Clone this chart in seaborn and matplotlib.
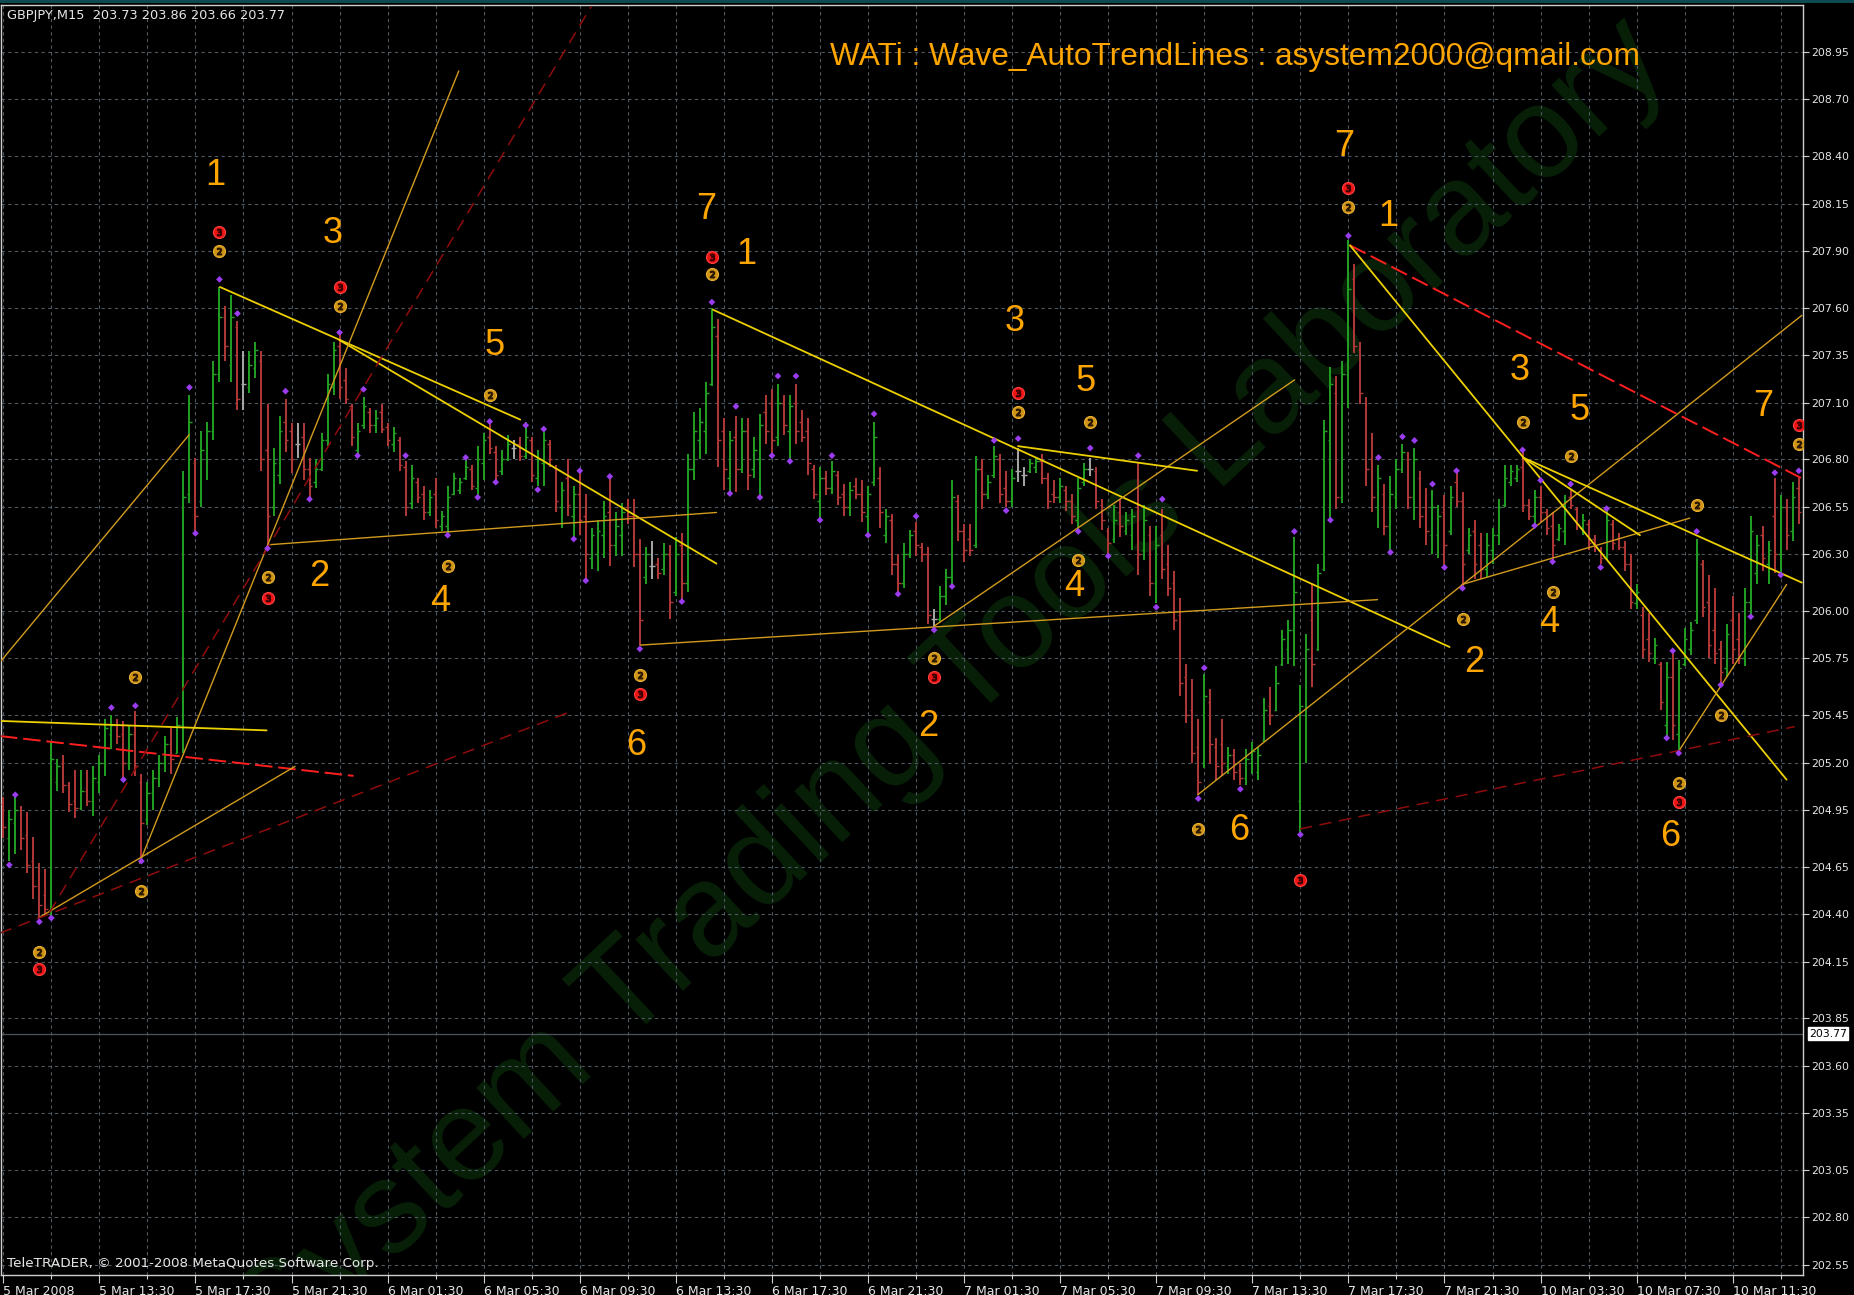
import matplotlib
matplotlib.use("Agg")
import matplotlib.pyplot as plt
import matplotlib.transforms as mtransforms
from matplotlib.patches import Rectangle
import numpy as np
import pandas as pd
import seaborn as sns

# ------------------------------------------------------------------ data
header_text = "GBPJPY,M15  203.73 203.86 203.66 203.77"
title_text = "WATi : Wave_AutoTrendLines : asystem2000@qmail.com"
watermark_text = "System Trading Tools Laboratory"
copyright_text = "TeleTRADER, \u00a9 2001-2008 MetaQuotes Software Corp."
current_price = 203.77

bar_high = [
    205.02, 204.95, 205.03, 204.97, 204.94, 204.81, 204.67, 204.64, 205.31, 205.22,
    205.24, 205.10, 205.16, 205.16, 205.16, 205.18, 205.24, 205.43, 205.45, 205.43,
    205.42, 205.40, 205.47, 205.14, 205.10, 205.16, 205.24, 205.34, 205.38, 205.44,
    206.74, 207.14, 206.81, 206.95, 207.00, 207.32, 207.71, 207.61, 207.67, 207.53,
    207.37, 207.37, 207.42, 207.37, 207.09, 206.86, 207.03, 207.12, 206.99, 206.99,
    206.99, 206.81, 206.80, 206.94, 207.25, 207.42, 207.47, 207.28, 207.09, 206.99,
    207.13, 207.07, 207.06, 207.09, 206.99, 206.97, 206.92, 206.79, 206.77, 206.70,
    206.66, 206.64, 206.70, 206.53, 206.66, 206.73, 206.70, 206.81, 206.77, 206.87,
    206.94, 207.00, 206.87, 206.85, 206.93, 206.90, 206.92, 207.00, 206.92, 206.85,
    206.96, 206.90, 206.77, 206.68, 206.80, 206.66, 206.74, 206.62, 206.44, 206.48,
    206.58, 206.70, 206.52, 206.57, 206.59, 206.59, 206.38, 206.34, 206.37, 206.28,
    206.36, 206.35, 206.39, 206.41, 206.83, 207.05, 207.07, 207.21, 207.60, 207.54,
    207.02, 206.95, 207.03, 207.02, 207.02, 206.92, 207.04, 207.14, 207.17, 207.20,
    207.14, 207.14, 207.20, 207.06, 207.02, 206.77, 206.76, 206.74, 206.79, 206.74,
    206.67, 206.68, 206.70, 206.69, 206.66, 207.00, 206.76, 206.54, 206.51, 206.30,
    206.36, 206.43, 206.47, 206.36, 206.34, 206.01, 206.13, 206.22, 206.69, 206.61,
    206.46, 206.46, 206.82, 206.80, 206.72, 206.87, 206.83, 206.74, 206.75, 206.86,
    206.76, 206.80, 206.81, 206.83, 206.73, 206.69, 206.70, 206.66, 206.62, 206.70,
    206.78, 206.81, 206.76, 206.59, 206.44, 206.56, 206.59, 206.52, 206.54, 206.78,
    206.56, 206.45, 206.45, 206.54, 206.35, 206.21, 206.07, 205.72, 205.64, 205.43,
    205.67, 205.59, 205.33, 205.43, 205.28, 205.27, 205.20, 205.27, 205.31, 205.28,
    205.54, 205.60, 205.71, 205.90, 205.95, 206.39, 205.61, 205.88, 206.14, 206.25,
    207.01, 207.29, 207.24, 207.32, 207.96, 207.83, 207.42, 207.13, 206.94, 206.77,
    206.67, 206.71, 206.80, 206.88, 206.84, 206.86, 206.74, 206.65, 206.64, 206.56,
    206.61, 206.66, 206.74, 206.63, 206.44, 206.48, 206.41, 206.41, 206.44, 206.59,
    206.77, 206.77, 206.77, 206.84, 206.59, 206.64, 206.66, 206.54, 206.52, 206.46,
    206.61, 206.64, 206.55, 206.51, 206.48, 206.40, 206.34, 206.53, 206.48, 206.41,
    206.37, 206.30, 206.14, 206.02, 205.99, 205.86, 205.73, 205.73, 205.78, 205.74,
    205.91, 205.94, 206.38, 206.27, 206.19, 206.12, 205.84, 205.93, 206.08, 205.99,
    206.12, 206.50, 206.40, 206.45, 206.37, 206.70, 206.61, 206.59, 206.68, 206.70,
]
bar_low = [
    204.80, 204.68, 204.72, 204.74, 204.62, 204.48, 204.38, 204.40, 204.38, 205.05,
    205.04, 204.94, 204.91, 204.95, 204.97, 204.92, 205.04, 205.13, 205.27, 205.30,
    205.11, 205.16, 205.13, 204.68, 204.87, 204.95, 205.07, 205.15, 205.14, 205.25,
    205.25, 206.57, 206.41, 206.55, 206.69, 206.90, 207.21, 207.32, 207.21, 207.06,
    207.06, 207.15, 207.23, 206.74, 206.33, 206.50, 206.67, 206.84, 206.73, 206.81,
    206.69, 206.60, 206.65, 206.74, 206.87, 207.14, 207.12, 207.09, 206.87, 206.82,
    206.96, 206.94, 206.94, 206.94, 206.87, 206.84, 206.74, 206.50, 206.54, 206.57,
    206.48, 206.50, 206.44, 206.42, 206.40, 206.61, 206.62, 206.69, 206.64, 206.60,
    206.69, 206.83, 206.67, 206.72, 206.79, 206.80, 206.79, 206.80, 206.68, 206.66,
    206.66, 206.76, 206.52, 206.44, 206.50, 206.38, 206.40, 206.17, 206.22, 206.21,
    206.28, 206.24, 206.29, 206.29, 206.46, 206.23, 205.82, 206.14, 206.17, 206.17,
    206.19, 205.96, 206.08, 206.05, 206.10, 206.69, 206.80, 206.83, 207.19, 206.76,
    206.64, 206.63, 206.63, 206.73, 206.64, 206.70, 206.61, 206.88, 206.83, 206.87,
    206.93, 206.80, 206.88, 206.89, 206.72, 206.59, 206.49, 206.61, 206.62, 206.56,
    206.50, 206.50, 206.59, 206.47, 206.41, 206.66, 206.44, 206.36, 206.19, 206.10,
    206.12, 206.28, 206.29, 206.26, 205.93, 205.90, 205.94, 206.03, 206.14, 206.37,
    206.26, 206.29, 206.33, 206.54, 206.59, 206.70, 206.57, 206.55, 206.55, 206.68,
    206.66, 206.73, 206.73, 206.67, 206.54, 206.57, 206.57, 206.53, 206.46, 206.43,
    206.66, 206.71, 206.54, 206.43, 206.29, 206.36, 206.39, 206.40, 206.32, 206.19,
    206.27, 206.08, 206.04, 206.17, 206.08, 205.90, 205.55, 205.41, 205.20, 205.03,
    205.17, 205.19, 205.11, 205.13, 205.14, 205.11, 205.08, 205.08, 205.14, 205.11,
    205.31, 205.40, 205.47, 205.71, 205.72, 205.71, 204.83, 205.20, 205.60, 205.79,
    206.21, 206.48, 206.54, 206.57, 207.07, 207.36, 207.09, 206.66, 206.52, 206.44,
    206.40, 206.31, 206.54, 206.73, 206.54, 206.48, 206.44, 206.35, 206.30, 206.28,
    206.23, 206.40, 206.55, 206.12, 206.30, 206.17, 206.17, 206.18, 206.25, 206.35,
    206.55, 206.66, 206.68, 206.52, 206.48, 206.45, 206.47, 206.40, 206.27, 206.37,
    206.35, 206.54, 206.43, 206.40, 206.32, 206.31, 206.25, 206.27, 206.32, 206.32,
    206.21, 206.01, 206.01, 205.75, 205.73, 205.72, 205.48, 205.33, 205.32, 205.25,
    205.71, 205.77, 205.93, 205.97, 205.75, 205.72, 205.61, 205.65, 205.72, 205.72,
    205.71, 205.97, 206.14, 206.21, 206.14, 206.20, 206.19, 206.32, 206.37, 206.46,
]
bar_open = [
    204.98, 204.80, 204.88, 204.95, 204.82, 204.68, 204.55, 204.50, 204.42, 205.10,
    205.20, 205.08, 205.00, 204.96, 205.05, 205.00, 205.10, 205.20, 205.35, 205.40,
    205.35, 205.20, 205.35, 205.10, 204.90, 205.04, 205.12, 205.20, 205.30, 205.25,
    205.40, 206.62, 206.78, 206.58, 206.80, 206.95, 207.25, 207.55, 207.30, 207.50,
    207.20, 207.18, 207.28, 207.32, 206.85, 206.55, 206.72, 207.00, 206.95, 206.88,
    206.92, 206.75, 206.68, 206.75, 206.90, 207.18, 207.40, 207.22, 207.08, 206.85,
    206.98, 207.05, 206.98, 207.05, 206.97, 206.88, 206.90, 206.76, 206.57, 206.68,
    206.62, 206.52, 206.62, 206.45, 206.45, 206.62, 206.64, 206.70, 206.75, 206.65,
    206.78, 206.92, 206.84, 206.74, 206.80, 206.86, 206.88, 206.82, 206.90, 206.70,
    206.78, 206.88, 206.76, 206.55, 206.70, 206.50, 206.62, 206.50, 206.28, 206.30,
    206.40, 206.52, 206.35, 206.40, 206.55, 206.50, 206.30, 206.18, 206.24, 206.25,
    206.22, 206.30, 206.10, 206.35, 206.15, 206.75, 206.90, 206.95, 207.20, 207.45,
    206.95, 206.70, 206.92, 206.75, 206.95, 206.75, 206.80, 207.05, 207.10, 206.92,
    207.10, 206.95, 207.10, 207.00, 206.95, 206.75, 206.58, 206.70, 206.65, 206.72,
    206.62, 206.55, 206.66, 206.62, 206.50, 206.68, 206.70, 206.40, 206.48, 206.25,
    206.15, 206.30, 206.42, 206.34, 206.30, 205.96, 205.96, 206.08, 206.18, 206.58,
    206.42, 206.38, 206.35, 206.75, 206.62, 206.72, 206.80, 206.65, 206.58, 206.74,
    206.72, 206.74, 206.76, 206.79, 206.70, 206.62, 206.60, 206.64, 206.58, 206.48,
    206.68, 206.75, 206.74, 206.56, 206.42, 206.38, 206.52, 206.42, 206.40, 206.55,
    206.32, 206.40, 206.15, 206.40, 206.25, 206.15, 205.98, 205.65, 205.48, 205.28,
    205.20, 205.52, 205.28, 205.30, 205.18, 205.24, 205.16, 205.12, 205.20, 205.15,
    205.32, 205.50, 205.48, 205.72, 205.80, 205.90, 205.00, 205.45, 205.95, 205.80,
    206.22, 206.90, 207.15, 206.60, 207.25, 207.75, 207.38, 207.10, 206.80, 206.55,
    206.62, 206.45, 206.60, 206.75, 206.80, 206.60, 206.70, 206.55, 206.40, 206.40,
    206.52, 206.42, 206.68, 206.58, 206.32, 206.42, 206.35, 206.22, 206.32, 206.40,
    206.56, 206.68, 206.70, 206.76, 206.56, 206.50, 206.60, 206.52, 206.45, 206.38,
    206.42, 206.60, 206.54, 206.44, 206.46, 206.38, 206.32, 206.28, 206.46, 206.38,
    206.34, 206.25, 206.04, 205.98, 205.85, 205.75, 205.72, 205.40, 205.65, 205.35,
    205.72, 205.80, 205.95, 206.25, 206.05, 205.90, 205.80, 205.70, 205.95, 205.85,
    205.75, 206.05, 206.20, 206.40, 206.25, 206.50, 206.30, 206.55, 206.42, 206.65,
]
bar_close = [
    204.86, 204.90, 204.95, 204.80, 204.66, 204.55, 204.45, 204.43, 205.22, 205.18,
    205.08, 204.98, 204.96, 205.05, 205.00, 205.12, 205.20, 205.38, 205.40, 205.34,
    205.20, 205.35, 205.18, 204.88, 205.04, 205.12, 205.20, 205.30, 205.22, 205.40,
    206.60, 207.00, 206.50, 206.85, 206.95, 207.25, 207.55, 207.40, 207.55, 207.12,
    207.20, 207.30, 207.38, 206.80, 206.50, 206.78, 206.95, 206.90, 206.80, 206.88,
    206.75, 206.66, 206.75, 206.90, 207.20, 207.38, 207.18, 207.12, 206.92, 206.95,
    207.08, 206.98, 207.02, 206.96, 206.90, 206.94, 206.77, 206.55, 206.70, 206.60,
    206.52, 206.60, 206.48, 206.50, 206.60, 206.70, 206.68, 206.76, 206.66, 206.80,
    206.90, 206.86, 206.72, 206.80, 206.88, 206.86, 206.82, 206.92, 206.72, 206.80,
    206.90, 206.80, 206.58, 206.64, 206.56, 206.62, 206.48, 206.30, 206.40, 206.42,
    206.50, 206.35, 206.45, 206.52, 206.50, 206.30, 205.95, 206.30, 206.24, 206.20,
    206.30, 206.05, 206.30, 206.15, 206.75, 206.95, 207.00, 207.15, 207.50, 206.90,
    206.75, 206.90, 206.75, 206.95, 206.72, 206.85, 206.98, 206.95, 206.90, 207.10,
    206.98, 207.08, 206.95, 206.92, 206.78, 206.62, 206.70, 206.65, 206.74, 206.60,
    206.55, 206.64, 206.62, 206.52, 206.62, 206.92, 206.52, 206.50, 206.25, 206.15,
    206.30, 206.40, 206.35, 206.30, 205.98, 205.96, 206.08, 206.18, 206.60, 206.42,
    206.32, 206.32, 206.75, 206.62, 206.68, 206.82, 206.62, 206.58, 206.70, 206.74,
    206.72, 206.78, 206.79, 206.70, 206.58, 206.60, 206.66, 206.58, 206.50, 206.65,
    206.75, 206.75, 206.58, 206.48, 206.36, 206.48, 206.45, 206.48, 206.50, 206.30,
    206.48, 206.15, 206.35, 206.22, 206.12, 205.95, 205.62, 205.45, 205.25, 205.10,
    205.55, 205.30, 205.18, 205.20, 205.24, 205.15, 205.12, 205.22, 205.26, 205.24,
    205.48, 205.45, 205.62, 205.85, 205.90, 206.10, 205.50, 205.80, 205.72, 206.20,
    206.95, 207.20, 206.60, 207.25, 207.70, 207.40, 207.15, 206.75, 206.60, 206.70,
    206.45, 206.62, 206.75, 206.84, 206.60, 206.80, 206.50, 206.42, 206.55, 206.50,
    206.35, 206.60, 206.58, 206.25, 206.40, 206.25, 206.22, 206.35, 206.40, 206.55,
    206.70, 206.74, 206.75, 206.56, 206.50, 206.60, 206.52, 206.44, 206.35, 206.44,
    206.58, 206.56, 206.46, 206.48, 206.36, 206.34, 206.28, 206.48, 206.36, 206.34,
    206.25, 206.05, 206.10, 205.80, 205.78, 205.82, 205.52, 205.65, 205.40, 205.70,
    205.85, 205.90, 206.30, 206.02, 205.82, 205.78, 205.68, 205.88, 205.80, 205.75,
    206.05, 206.42, 206.35, 206.28, 206.32, 206.30, 206.55, 206.40, 206.60, 206.52,
]

x_tick_labels = [
    "5 Mar 2008", "5 Mar 13:30", "5 Mar 17:30", "5 Mar 21:30", "6 Mar 01:30",
    "6 Mar 05:30", "6 Mar 09:30", "6 Mar 13:30", "6 Mar 17:30", "6 Mar 21:30",
    "7 Mar 01:30", "7 Mar 05:30", "7 Mar 09:30", "7 Mar 13:30", "7 Mar 17:30",
    "7 Mar 21:30", "10 Mar 03:30", "10 Mar 07:30", "10 Mar 11:30",
]
y_tick_values = [
    208.95, 208.70, 208.40, 208.15, 207.90, 207.60, 207.35, 207.10, 206.80,
    206.55, 206.30, 206.00, 205.75, 205.45, 205.20, 204.95, 204.65, 204.40,
    204.15, 203.85, 203.60, 203.35, 203.05, 202.80, 202.55,
]

# fractal (swing) dots: bar index and price
fractal_bars = [1, 2, 6, 8, 18, 20, 22, 23, 31, 32, 36, 39, 44, 47, 51, 56, 59, 60,
                67, 74, 77, 79, 81, 82, 87, 89, 90, 95, 96, 97, 101, 106, 113, 118,
                121, 122, 126, 128, 129, 131, 132, 136, 138, 144, 145, 149, 152, 155,
                158, 165, 167, 169, 179, 181, 184, 189, 192, 193, 199, 200, 206, 215,
                216, 221, 224, 229, 231, 233, 235, 238, 240, 242, 243, 253, 255, 256,
                258, 261, 266, 267, 277, 278, 279, 282, 286, 291, 295, 296, 299]
fractal_prices = [204.66, 205.03, 204.36, 204.38, 205.49, 205.11, 205.50, 204.68,
                  207.18, 206.41, 207.75, 207.57, 206.33, 207.16, 206.59, 207.47,
                  206.82, 207.17, 206.82, 206.40, 206.81, 206.60, 207.00, 206.68,
                  206.98, 206.64, 206.96, 206.38, 206.74, 206.16, 206.71, 205.80,
                  206.05, 207.63, 206.62, 207.08, 206.60, 206.82, 207.24, 206.79,
                  207.24, 206.48, 206.82, 206.40, 207.04, 206.09, 206.50, 205.90,
                  206.13, 206.90, 206.53, 206.91, 206.42, 206.86, 206.29, 206.82,
                  206.02, 206.59, 205.01, 205.70, 205.06, 206.42, 204.82, 206.48,
                  207.98, 206.81, 206.31, 206.92, 206.90, 206.67, 206.23, 206.74,
                  206.12, 206.85, 206.45, 206.69, 206.26, 206.67, 206.23, 206.54,
                  205.33, 205.79, 205.25, 206.42, 205.61, 205.97, 206.73, 206.19,
                  206.74]

# numbered circle signals
orange_signal_bars = [36, 56, 81, 44, 74, 22, 23, 6, 106, 118, 169, 181, 155, 179,
                      199, 224, 253, 261, 258, 243, 279, 282, 286, 299]
orange_signal_prices = [207.90, 207.61, 207.14, 206.18, 206.24, 205.65, 204.52,
                        204.20, 205.66, 207.78, 207.05, 207.00, 205.75, 206.27,
                        204.85, 208.13, 207.00, 206.82, 206.10, 205.96, 205.09,
                        206.56, 205.45, 206.88]
red_signal_bars = [36, 56, 44, 6, 106, 118, 169, 155, 216, 224, 279, 299]
red_signal_prices = [208.00, 207.71, 206.07, 204.11, 205.56, 207.87, 207.15,
                     205.65, 204.58, 208.23, 204.99, 206.98]

# wave count labels
wave_text = ["1", "3", "5", "2", "4", "6", "7", "1", "3", "5", "4", "2", "6",
             "7", "1", "3", "5", "4", "2", "6", "7"]
wave_bar = [35.3, 54.8, 81.8, 52.6, 72.7, 105.4, 117.0, 123.7, 168.4, 180.2,
            178.4, 154.0, 205.8, 223.3, 230.6, 252.5, 262.5, 257.4, 245.0, 277.5,
            293.0]
wave_price = [208.30, 207.99, 207.40, 206.18, 206.05, 205.29, 208.12, 207.88,
              207.53, 207.21, 206.13, 205.39, 204.84, 208.45, 208.08, 207.27,
              207.06, 205.94, 205.73, 204.81, 207.08]

# auto trend lines: start bar, start price, end bar, end price, kind
line_bar0 = [36.07, 55.96, 44.34, 22.68, -0.55, -0.55, -0.55, 5.85, -0.55, 7.72,
             118.18, 106.03, 155.0, 168.98, 198.9, 224.25, 224.25, 215.94, 242.92,
             253.06, 253.06, 279.2]
line_price0 = [207.71, 207.43, 206.35, 204.67, 205.73, 205.42, 205.34, 204.38,
               204.30, 204.41, 207.59, 205.82, 205.92, 206.87, 205.03, 207.93,
               207.93, 204.85, 206.14, 206.81, 206.81, 205.27]
line_bar1 = [86.09, 118.77, 118.77, 75.85, 30.95, 43.85, 58.32, 48.58, 94.55, 97.9,
             240.85, 228.84, 215.05, 198.8, 299.5, 299.5, 296.97, 298.34, 280.83,
             299.5, 272.55, 296.97]
line_price1 = [207.01, 206.25, 206.52, 208.85, 206.93, 205.37, 205.13, 205.18,
               205.47, 209.19, 205.81, 206.06, 207.22, 206.74, 207.56, 206.70,
               205.11, 205.39, 206.49, 206.15, 206.40, 206.14]
line_kind = ["yellow", "yellow", "gold", "gold", "gold", "yellow", "red", "gold",
             "darkred", "darkred", "yellow", "gold", "gold", "yellow", "gold", "red",
             "yellow", "darkred", "gold", "yellow", "yellow", "gold"]

# ------------------------------------------------------------------ style
sns.set_theme(style="dark", rc={"axes.facecolor": "black", "figure.facecolor": "black"})
plt.rcParams["font.family"] = ["DejaVu Sans"]

W, H = 1854, 1295
fig = plt.figure(figsize=(W / 100, H / 100), dpi=100, facecolor="black")
ax = fig.add_axes([1 / W, 20 / H, 1802 / W, 1270 / H])
ax.set_facecolor("black")

n = len(bar_high)
df = pd.DataFrame({"bar": np.arange(n), "open": bar_open, "high": bar_high,
                   "low": bar_low, "close": bar_close})
bar_colors = np.where(df["close"] > df["open"], "#22a022",
                      np.where(df["close"] < df["open"], "#b23838", "#a8a8a8"))

# watermark (its first letter is clipped by the chart's lower edge, as in the source)
ax.text(0.528, 0.459, watermark_text, transform=ax.transAxes, rotation=43,
        rotation_mode="anchor", fontsize=94, color="#082008",
        family=["Liberation Sans", "DejaVu Sans"], ha="center", va="center",
        zorder=0.2, clip_on=True)

# grid
grid_kw = dict(color="#4f5861", lw=0.8, ls=(0, (3, 3)))
ax.set_axisbelow(True)
ax.grid(True, axis="x", which="minor", **grid_kw)
ax.grid(True, axis="x", which="major", **grid_kw)
ax.grid(True, axis="y", which="major", **grid_kw)

# current price line
ax.axhline(current_price, color="#4c545c", lw=0.9, zorder=1)

# OHLC bars
ax.vlines(df["bar"], df["low"], df["high"], colors=bar_colors, lw=1.4, zorder=3)
ax.hlines(df["open"], df["bar"] - 0.45, df["bar"], colors=bar_colors, lw=1.0, zorder=3)
ax.hlines(df["close"], df["bar"], df["bar"] + 0.45, colors=bar_colors, lw=1.0, zorder=3)

# trend lines
line_styles = {
    "yellow": dict(color="#ecd000", lw=1.3, ls="-"),
    "gold": dict(color="#d29b1e", lw=1.0, ls="-"),
    "red": dict(color="#ff1f1f", lw=1.4, ls=(0, (9, 3))),
    "darkred": dict(color="#900c0c", lw=1.1, ls=(0, (8, 5))),
}
for x0, y0, x1, y1, k in zip(line_bar0, line_price0, line_bar1, line_price1, line_kind):
    ax.plot([x0, x1], [y0, y1], zorder=4, **line_styles[k])

# fractal dots
sns.scatterplot(x=fractal_bars, y=fractal_prices, marker="D", s=12, color="#9a3cf0",
                edgecolor="none", ax=ax, zorder=5, legend=False)

# circle signals
sns.scatterplot(x=orange_signal_bars, y=orange_signal_prices, s=75, color="#cf9416",
                edgecolor="#e8b030", linewidth=0.8, ax=ax, zorder=6, legend=False)
ax.scatter(orange_signal_bars, orange_signal_prices, marker="$2$", s=22,
           color="#2a1800", zorder=7)
sns.scatterplot(x=red_signal_bars, y=red_signal_prices, s=75, color="#ee1414",
                edgecolor="#ff4040", linewidth=0.8, ax=ax, zorder=6, legend=False)
ax.scatter(red_signal_bars, red_signal_prices, marker="$3$", s=22,
           color="#3a0000", zorder=7)

# wave labels
for t, xb, yp in zip(wave_text, wave_bar, wave_price):
    ax.text(xb, yp, t, color="#ffa500", fontsize=26, ha="center", va="center",
            family=["Liberation Sans", "DejaVu Sans"], zorder=8)

# axes limits & ticks
ax.set_xlim(-0.38, 299.7)
ax.set_ylim(202.496, 209.198)
ax.set_xticks(np.arange(0, n, 16))
ax.set_xticklabels(x_tick_labels)
for lbl in ax.get_xticklabels():
    lbl.set_ha("left")
ax.set_xticks(np.arange(0, n, 8), minor=True)
ax.tick_params(axis="x", which="major", bottom=True, length=6, width=0.8,
               color="#d0d0d0", labelcolor="#e6e6e6", labelsize=9, pad=1,
               direction="out")
ax.tick_params(axis="x", which="minor", bottom=True, length=3, width=0.8,
               color="#d0d0d0", direction="out")

ax.yaxis.tick_right()
ax.set_yticks(y_tick_values)
ax.set_yticklabels([f"{v:.2f}" for v in y_tick_values])
ax.tick_params(axis="y", which="major", right=True, left=False, length=4, width=0.8,
               color="#d0d0d0", labelcolor="#e6e6e6", labelsize=7.8, pad=2,
               direction="out")
ax.set_xlabel("")
ax.set_ylabel("")
for sp in ax.spines.values():
    sp.set_visible(True)
    sp.set_color("#d0d0d0")
    sp.set_linewidth(1.0)

# current price label on the axis
trans = mtransforms.blended_transform_factory(ax.transAxes, ax.transData)
ax.annotate(f"{current_price:.2f}", xy=(1.0, current_price), xycoords=trans,
            xytext=(6, 0), textcoords="offset pixels", ha="left", va="center",
            fontsize=7.8, color="black", annotation_clip=False,
            bbox=dict(boxstyle="square,pad=0.12", fc="white", ec="white"))

# texts fixed on screen
fig.text(7 / W, 1 - 16 / H, header_text, color="#e6e6e6", fontsize=9.3,
         ha="left", va="center")
fig.text(830 / W, 1 - 57 / H, title_text, color="#ffa500", fontsize=22.8,
         family=["Liberation Sans", "DejaVu Sans"], ha="left", va="center")
fig.text(7 / W, 1 - 1263 / H, copyright_text, color="#e6e6e6", fontsize=9.7,
         ha="left", va="center")

# thin window frame strip at the top
fig.patches.append(Rectangle((0, 1 - 3 / H), 1, 3 / H, transform=fig.transFigure,
                             facecolor="#0d4a52", edgecolor="none"))

fig.savefig("out.png", dpi=100, facecolor="black")
